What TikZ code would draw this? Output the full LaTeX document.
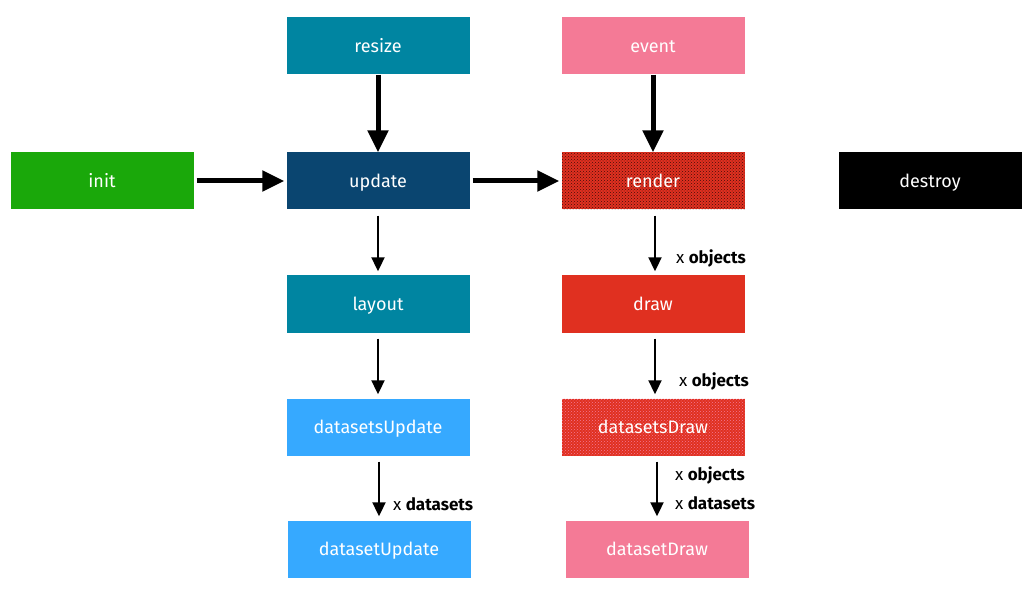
\documentclass[tikz,border=0pt]{standalone}
\usepackage{fontspec}
\setmainfont{Fira Sans}
\usetikzlibrary{arrows.meta,patterns}

\definecolor{chartteal}{HTML}{0085A1}
\definecolor{chartnavy}{HTML}{0A4570}
\definecolor{chartgreen}{HTML}{1AA80A}
\definecolor{chartpink}{HTML}{F47A96}
\definecolor{chartred}{HTML}{E03020}
\definecolor{chartsky}{HTML}{36A9FF}

\tikzset{
  box/.style={minimum width=183pt, minimum height=57pt, inner sep=0pt,
    text height=16pt, text depth=3pt,
    text=white, font=\fontsize{18}{22}\selectfont},
  bigarrow/.style={line width=5pt, -{Triangle[length=22pt,width=20pt]}},
  smallarrow/.style={line width=2pt, -{Triangle[length=14pt,width=13pt]}},
  lbl/.style={inner sep=0pt, anchor=west, font=\fontsize{17}{21}\selectfont}
}

\begin{document}
\begin{tikzpicture}[x=1pt,y=-1pt]
\useasboundingbox (0,0) rectangle (1035,593);

% top row
\node[box, fill=chartteal] (resize) at (378,46) {resize};
\node[box, fill=chartpink] (event) at (653,46) {event};

% main row
\node[box, fill=chartgreen] (init) at (102,181) {init};
\node[box, fill=chartnavy] (update) at (378,181) {update};
\node[box, preaction={fill=chartred}, pattern=crosshatch dots, pattern color=black!70!chartred] (render) at (653,181) {render};
\node[box, fill=black] (destroy) at (930,181) {destroy};

% update chain
\node[box, fill=chartteal] (layout) at (378,304) {layout};
\node[box, fill=chartsky] (datasetsUpdate) at (378,427) {datasetsUpdate};
\node[box, fill=chartsky] (datasetUpdate) at (379,549) {datasetUpdate};

% draw chain
\node[box, fill=chartred] (draw) at (653,304) {draw};
\node[box, preaction={fill=chartred}, pattern=crosshatch dots, pattern color=chartpink] (datasetsDraw) at (653,427) {datasetsDraw};
\node[box, fill=chartpink] (datasetDraw) at (657,549) {datasetDraw};

% thick arrows
\draw[bigarrow] (resize) -- (update);
\draw[bigarrow] (event) -- (render);
\draw[bigarrow, shorten <=3pt, shorten >=2pt] (init) -- (update);
\draw[bigarrow, shorten <=3pt, shorten >=2pt] (update) -- (render);

% thin arrows
\draw[smallarrow, shorten <=6pt, shorten >=4pt] (update) -- (layout);
\draw[smallarrow, shorten <=6pt, shorten >=4pt] (layout) -- (datasetsUpdate);
\draw[smallarrow, shorten <=6pt, shorten >=4pt] (datasetsUpdate.south -| datasetUpdate) -- (datasetUpdate)
  node[lbl, pos=0.75, xshift=13pt] {x \textbf{datasets}};
\draw[smallarrow, shorten <=6pt, shorten >=4pt] (render.south -| 655,0) -- (draw.north -| 655,0)
  node[lbl, pos=0.75, xshift=20pt] {x \textbf{objects}};
\draw[smallarrow, shorten <=6pt, shorten >=4pt] (draw.south -| 655,0) -- (datasetsDraw.north -| 655,0)
  node[lbl, pos=0.75, xshift=23pt] {x \textbf{objects}};
\draw[smallarrow, shorten <=6pt, shorten >=4pt] (datasetsDraw.south -| datasetDraw) -- (datasetDraw)
  node[lbl, pos=0.5, xshift=17pt, align=left] {x \textbf{objects}\\[8pt]x \textbf{datasets}};

\end{tikzpicture}
\end{document}
